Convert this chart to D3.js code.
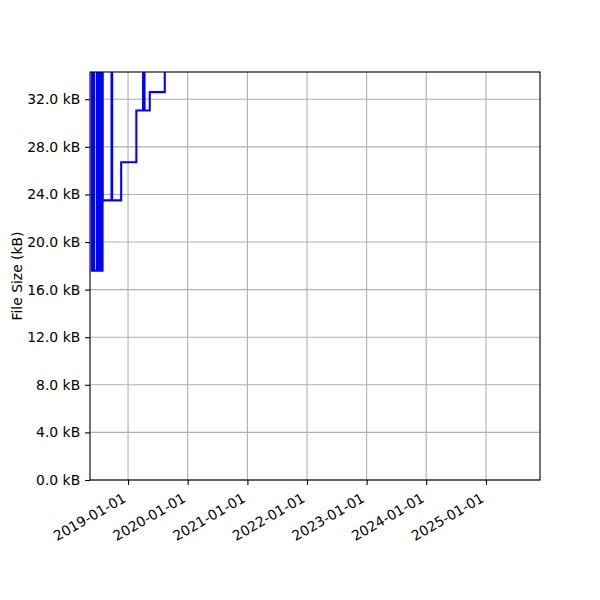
<!DOCTYPE html>
<html>
<head>
<meta charset="utf-8">
<script src="https://cdn.jsdelivr.net/npm/d3@7"></script>
<style>
  html, body { margin: 0; padding: 0; background: #fff; }
  svg { display: block; }
  text { font-family: "DejaVu Sans", sans-serif; }
</style>
</head>
<body>
<svg id="chart" width="600" height="600"></svg>
<script>
// ---- data ----
const dates = [
  "2018-05-20", "2018-05-24", "2018-06-05", "2018-06-07",
  "2018-06-24", "2018-06-26", "2018-06-28", "2018-06-30", "2018-07-02",
  "2018-07-04", "2018-07-06", "2018-07-08", "2018-07-10", "2018-07-12",
  "2018-07-14", "2018-07-16", "2018-07-18", "2018-07-20", "2018-07-22",
  "2018-07-24", "2018-07-26", "2018-07-28", "2018-07-29", "2018-07-30",
  "2018-09-22", "2018-09-26", "2018-11-20", "2019-02-21", "2019-04-03",
  "2019-04-12", "2019-05-14", "2019-08-14", "2025-11-28"
];
const sizesKB = [
  48, 17.6, 48, 17.6,
  48, 17.6, 48, 17.6, 48,
  17.6, 48, 17.6, 48, 17.6,
  48, 17.6, 48, 17.6, 48,
  17.6, 48, 17.6, 48, 23.5,
  48, 23.5, 26.7, 31.05, 48,
  31.05, 32.6, 48, 48
];
const xTickLabels = ["2019-01-01", "2020-01-01", "2021-01-01", "2022-01-01", "2023-01-01", "2024-01-01", "2025-01-01"];
const yTickValues = [0, 4, 8, 12, 16, 20, 24, 28, 32];
const xDomain = ["2018-05-13", "2025-11-28"];
const yDomain = [0, 34.29];
const yLabel = "File Size (kB)";

(function () {
  const parse = d3.timeParse("%Y-%m-%d");
  const mL = 90, mR = 540, mT = 72, mB = 480;
  const svg = d3.select("#chart");

  const x = d3.scaleTime().domain(xDomain.map(parse)).range([mL, mR]);
  const y = d3.scaleLinear().domain(yDomain).range([mB, mT]);

  const data = dates.map((d, i) => ({ date: parse(d), v: sizesKB[i] }));

  svg.append("defs").append("clipPath").attr("id", "plotclip")
    .append("rect").attr("x", mL).attr("y", mT).attr("width", mR - mL).attr("height", mB - mT);

  // grid
  const grid = svg.append("g");
  grid.selectAll("line.gx").data(xTickLabels.map(parse)).join("line")
    .attr("class", "gx")
    .attr("x1", d => x(d)).attr("x2", d => x(d))
    .attr("y1", mT).attr("y2", mB)
    .attr("stroke", "#b0b0b0").attr("stroke-width", 1.1);
  grid.selectAll("line.gy").data(yTickValues).join("line")
    .attr("class", "gy")
    .attr("x1", mL).attr("x2", mR)
    .attr("y1", d => y(d)).attr("y2", d => y(d))
    .attr("stroke", "#b0b0b0").attr("stroke-width", 1.1);

  // line
  const line = d3.line().x(d => x(d.date)).y(d => y(d.v)).curve(d3.curveStepAfter);
  svg.append("path").datum(data)
    .attr("clip-path", "url(#plotclip)")
    .attr("d", line)
    .attr("fill", "none")
    .attr("stroke", "#0000ff")
    .attr("stroke-width", 2.08);

  // axes
  const xAxis = d3.axisBottom(x).tickValues(xTickLabels.map(parse))
    .tickFormat(d3.timeFormat("%Y-%m-%d")).tickSize(4.9).tickPadding(4.9);
  const gx = svg.append("g").attr("transform", `translate(0,${mB})`).call(xAxis);
  gx.select(".domain").remove();
  gx.selectAll(".tick line").attr("stroke", "#000").attr("stroke-width", 1.1);
  gx.selectAll(".tick text")
    .attr("font-size", "13.9px")
    .attr("fill", "#000")
    .attr("text-anchor", "end")
    .attr("y", 0).attr("dy", null)
    .attr("transform", "translate(-1.6,21) rotate(-30)");

  const yAxis = d3.axisLeft(y).tickValues(yTickValues)
    .tickFormat(d => d3.format(".1f")(d) + " kB").tickSize(4.9).tickPadding(4.9);
  const gy = svg.append("g").attr("transform", `translate(${mL},0)`).call(yAxis);
  gy.select(".domain").remove();
  gy.selectAll(".tick line").attr("stroke", "#000").attr("stroke-width", 1.1);
  gy.selectAll(".tick text").attr("font-size", "13.9px").attr("fill", "#000");

  // frame
  svg.append("rect").attr("x", mL).attr("y", mT).attr("width", mR - mL).attr("height", mB - mT)
    .attr("fill", "none").attr("stroke", "#000").attr("stroke-width", 1.1);

  // y label
  svg.append("text")
    .attr("transform", `translate(21.5,${(mT + mB) / 2}) rotate(-90)`)
    .attr("text-anchor", "middle")
    .attr("font-size", "13.9px")
    .attr("fill", "#000")
    .text(yLabel);
})();
</script>
</body>
</html>
